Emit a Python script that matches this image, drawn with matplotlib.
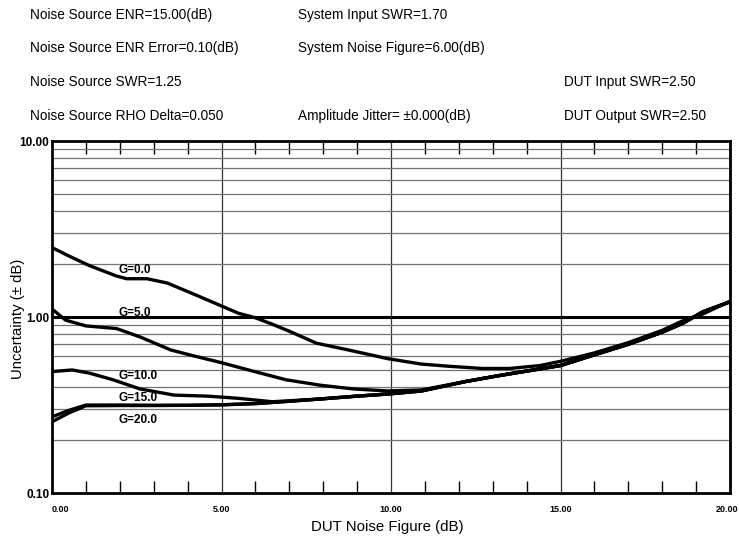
import matplotlib
matplotlib.use("Agg")
import matplotlib.pyplot as plt
from matplotlib import font_manager
from matplotlib.ticker import FixedLocator, NullFormatter, FuncFormatter, MultipleLocator

# ---- data: noise-figure uncertainty vs DUT noise figure, one curve per gain ----
g0_x = [0.0, 0.5, 1.1, 1.9, 2.2, 2.8, 3.4, 4.1, 4.8, 5.5, 6.0, 6.5, 7.0, 7.8, 8.9, 9.9,
        10.9, 11.7, 12.7, 13.5, 14.4, 15.0, 16.0, 17.0, 18.0, 18.6, 19.2, 20.0]
g0_y = [2.48, 2.22, 1.96, 1.71, 1.65, 1.65, 1.56, 1.37, 1.20, 1.05, 0.99, 0.91, 0.83, 0.71,
        0.64, 0.58, 0.54, 0.525, 0.51, 0.51, 0.53, 0.56, 0.625, 0.715, 0.84, 0.95, 1.04, 1.23]

g5_x = [0.0, 0.4, 1.0, 1.9, 2.6, 3.5, 4.2, 5.0, 5.8, 6.9, 7.9, 8.9, 9.9, 10.9, 12.2, 13.2,
        14.2, 15.0, 16.0, 17.0, 18.0, 18.6, 19.2, 20.0]
g5_y = [1.11, 0.96, 0.89, 0.86, 0.77, 0.65, 0.60, 0.55, 0.50, 0.44, 0.41, 0.39, 0.38, 0.385,
        0.43, 0.465, 0.50, 0.53, 0.61, 0.70, 0.82, 0.92, 1.07, 1.22]

g10_x = [0.0, 0.6, 1.1, 1.8, 2.6, 3.6, 4.6, 5.5, 6.5, 7.9, 8.9, 9.9, 10.9, 12.2, 13.2,
         14.2, 15.0, 16.0, 17.0, 18.0, 18.6, 19.2, 20.0]
g10_y = [0.49, 0.50, 0.48, 0.44, 0.39, 0.36, 0.355, 0.345, 0.33, 0.342, 0.354, 0.365, 0.38,
         0.43, 0.465, 0.50, 0.53, 0.61, 0.70, 0.82, 0.92, 1.07, 1.22]

g15_x = [0.0, 0.5, 1.0, 2.0, 3.0, 4.0, 5.0, 6.0, 6.9, 7.9, 8.9, 9.9, 10.9, 12.2, 13.2,
         14.2, 15.0, 16.0, 17.0, 18.0, 18.6, 19.2, 20.0]
g15_y = [0.271, 0.295, 0.316, 0.316, 0.315, 0.315, 0.317, 0.322, 0.331, 0.342, 0.354, 0.365,
         0.38, 0.43, 0.465, 0.50, 0.53, 0.61, 0.70, 0.82, 0.92, 1.07, 1.22]

g20_x = [0.0, 0.5, 1.0, 2.0, 3.0, 4.0, 5.0, 6.0, 6.9, 7.9, 8.9, 9.9, 10.9, 12.2, 13.2,
         14.2, 15.0, 16.0, 17.0, 18.0, 18.6, 19.2, 20.0]
g20_y = [0.254, 0.285, 0.313, 0.314, 0.314, 0.315, 0.317, 0.322, 0.331, 0.342, 0.354, 0.365,
         0.38, 0.43, 0.465, 0.50, 0.53, 0.61, 0.70, 0.82, 0.92, 1.07, 1.22]

curve_labels = ["G=0.0", "G=5.0", "G=10.0", "G=15.0", "G=20.0"]
label_y = [1.86, 1.055, 0.46, 0.345, 0.26]

x_ticks = [0, 5, 10, 15, 20]
y_ticks = [0.1, 1.0, 10.0]

header_left = ["Noise Source ENR=15.00(dB)", "Noise Source ENR Error=0.10(dB)",
               "Noise Source SWR=1.25", "Noise Source RHO Delta=0.050"]
header_mid = ["System Input SWR=1.70", "System Noise Figure=6.00(dB)", "",
              "Amplitude Jitter= \u00b10.000(dB)"]
header_right = ["", "", "DUT Input SWR=2.50", "DUT Output SWR=2.50"]

# ---- fonts ----
avail = {f.name for f in font_manager.fontManager.ttflist}
fam = [f for f in ["Liberation Sans Narrow", "Liberation Sans", "DejaVu Sans"] if f in avail]
plt.rcParams["font.family"] = fam

W, H = 739, 537
fig = plt.figure(figsize=(W / 100, H / 100), dpi=100)
ax = fig.add_axes([52 / W, 1 - 493 / H, (730 - 52) / W, (493 - 141) / H])
ax.set_yscale("log")
ax.set_xlim(0, 20)
ax.set_ylim(0.1, 10)

# grid
ax.yaxis.set_minor_locator(matplotlib.ticker.LogLocator(base=10, subs=range(2, 10)))
ax.yaxis.set_minor_formatter(NullFormatter())
ax.grid(which="minor", axis="y", color="0.45", lw=0.9)
for xv in [5, 10, 15]:
    ax.axvline(xv, color="0.2", lw=0.9, zorder=1)
ax.axhline(1.0, color="black", lw=2.2, zorder=2)

# curves
for xs, ys in [(g0_x, g0_y), (g5_x, g5_y), (g10_x, g10_y), (g15_x, g15_y), (g20_x, g20_y)]:
    ax.plot(xs, ys, color="black", lw=2.4, solid_capstyle="round", zorder=3)

for lab, ly in zip(curve_labels, label_y):
    ax.text(1.95, ly, lab, fontsize=8.5, fontweight="bold", ha="left", va="center", zorder=4)

# ticks
ax.xaxis.set_major_locator(FixedLocator(x_ticks))
ax.xaxis.set_minor_locator(MultipleLocator(1))
ax.xaxis.set_major_formatter(FuncFormatter(lambda v, p: f"{v:.2f}"))
ax.tick_params(axis="x", which="major", length=0, pad=9, labelsize=6.5)
ax.tick_params(axis="x", which="minor", direction="in", top=True, bottom=True,
               length=9, width=1.0)
ax.yaxis.set_major_locator(FixedLocator(y_ticks))
ax.yaxis.set_major_formatter(FuncFormatter(lambda v, p: f"{v:.2f}"))
ax.tick_params(axis="y", which="major", length=0, pad=2, labelsize=8.5)
ax.tick_params(axis="y", which="minor", length=0)
fig.canvas.draw()
xl = ax.get_xticklabels()
for t in xl + ax.get_yticklabels():
    t.set_fontweight("bold")
xl[0].set_ha("left")
xl[-1].set_ha("right")
xl[-1].set_transform(xl[-1].get_transform() +
                     matplotlib.transforms.ScaledTranslation(8 / 100, 0, fig.dpi_scale_trans))
for s in ax.spines.values():
    s.set_linewidth(2.0)

fig.text(387 / W, 1 - 527 / H, "DUT Noise Figure (dB)", fontsize=10.8, ha="center", va="center")
fig.text(18 / W, 1 - 319 / H, "Uncertainty (\u00b1 dB)", fontsize=10.7, rotation=90,
         ha="center", va="center")

rows_y = [15, 48, 82, 116]
for col_x, lines in [(30, header_left), (298, header_mid), (564, header_right)]:
    for ry, txt in zip(rows_y, lines):
        if txt:
            fig.text(col_x / W, 1 - ry / H, txt, fontsize=9.8, ha="left", va="center")

fig.savefig("out.png", dpi=100)
